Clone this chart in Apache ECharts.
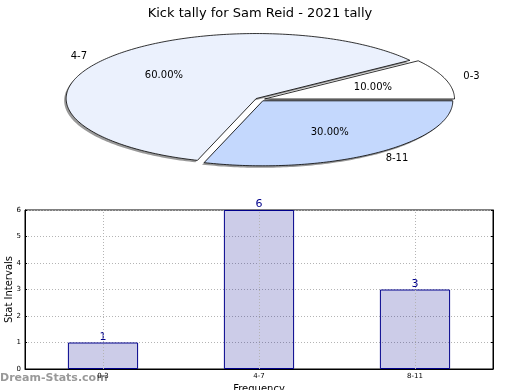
<!DOCTYPE html>
<html>
<head>
<meta charset="utf-8">
<script src="https://cdn.jsdelivr.net/npm/echarts@6/dist/echarts.min.js"></script>
<style>
html,body{margin:0;padding:0;background:#fff;}
#chart{width:520px;height:390px;}
</style>
</head>
<body>
<div id="chart"></div>
<script>
// ---- data ----
const categories = ['0-3', '4-7', '8-11'];
const counts = [1, 6, 3];
const yTicks = [0, 1, 2, 3, 4, 5, 6];
const titleText = 'Kick tally for Sam Reid - 2021 tally';

// ---- styles / layout ----
const pieColors = ['#ffffff', '#ebf1fd', '#c4d8fd'];
const PIE = { cx: 260, cy: 99.5, rx: 190, ry: 65, explode: 0.025, labelDist: 1.1, pctDist: 0.6 };

const total = counts.reduce((a, b) => a + b, 0);
const starts = [];
(function () { let acc = 0; counts.forEach(v => { starts.push(acc); acc += v; }); })();

function pt(ox, oy, aDeg, f) {
  const a = aDeg * Math.PI / 180;
  return [ox + PIE.rx * f * Math.cos(a), oy - PIE.ry * f * Math.sin(a)];
}

function renderWedge(params, api) {
  const i = params.dataIndex;
  const v = api.value(1);
  const a0 = starts[i] / total * 360;
  const a1 = (starts[i] + v) / total * 360;
  const mid = (a0 + a1) / 2;
  const m = mid * Math.PI / 180;
  const ox = PIE.cx + PIE.rx * PIE.explode * Math.cos(m);
  const oy = PIE.cy - PIE.ry * PIE.explode * Math.sin(m);
  const pts = [[ox, oy]];
  const n = Math.max(4, Math.ceil(a1 - a0));
  for (let k = 0; k <= n; k++) {
    pts.push(pt(ox, oy, a0 + (a1 - a0) * k / n, 1));
  }
  const shadowPts = pts.map(p => [p[0] - 2, p[1] + 2]);
  const lp = pt(ox, oy, mid, PIE.labelDist);
  const pp = pt(ox, oy, mid, PIE.pctDist);
  const cosm = Math.cos(m);
  return {
    type: 'group',
    children: [
      { type: 'polygon', shape: { points: shadowPts }, z2: 1,
        style: { fill: 'rgba(70,70,70,0.55)', stroke: null } },
      { type: 'polygon', shape: { points: pts }, z2: 10,
        style: { fill: pieColors[i], stroke: '#000', lineWidth: 0.8 } },
      { type: 'text', z2: 20, x: lp[0], y: lp[1],
        style: { text: categories[i], fill: '#000', fontSize: 10, fontFamily: 'DejaVu Sans',
                 align: cosm < 0 ? 'right' : 'left', verticalAlign: 'middle' } },
      { type: 'text', z2: 20, x: pp[0], y: pp[1],
        style: { text: (v / total * 100).toFixed(2) + '%', fill: '#000', fontSize: 10, fontFamily: 'DejaVu Sans',
                 align: 'center', verticalAlign: 'middle' } }
    ]
  };
}

const chart = echarts.init(document.getElementById('chart'), null, { renderer: 'canvas' });
chart.setOption({
  animation: false,
  backgroundColor: '#fff',
  textStyle: { fontFamily: 'DejaVu Sans' },
  title: {
    text: titleText, left: 'center', top: 2,
    textStyle: { fontSize: 13, fontWeight: 'normal', color: '#000', fontFamily: 'DejaVu Sans' }
  },
  graphic: [{
    type: 'text', left: 0, top: 373,
    style: { text: 'Dream-Stats.com', fill: '#999', fontSize: 11, fontWeight: 'bold', fontFamily: 'DejaVu Sans' }
  }],
  grid: { left: 25, right: 27, top: 210, bottom: 21, show: true, borderColor: '#000', borderWidth: 1,
          containLabel: false, outerBoundsMode: 'none' },
  xAxis: {
    type: 'category', data: categories,
    name: 'Frequency', nameLocation: 'middle', nameGap: 15, nameMoveOverlap: false,
    nameTextStyle: { fontSize: 10, color: '#000' },
    axisLine: { lineStyle: { color: '#000' } },
    axisTick: { show: false },
    axisLabel: { fontSize: 7, color: '#000', margin: 4 },
    splitLine: { show: false }
  },
  yAxis: [{
    type: 'value', min: yTicks[0], max: yTicks[yTicks.length - 1], interval: 1,
    name: 'Stat Intervals', nameLocation: 'middle', nameGap: 11, nameMoveOverlap: false,
    nameTextStyle: { fontSize: 10, color: '#000' },
    axisLine: { show: true, lineStyle: { color: '#000' } },
    axisTick: { show: true, inside: true, length: 2, lineStyle: { color: '#000' } },
    axisLabel: { fontSize: 7, color: '#000', margin: 4 },
    splitLine: { show: true, lineStyle: { color: '#b4b4b4', type: [1, 2], width: 1 } }
  }, {
    type: 'value', min: yTicks[0], max: yTicks[yTicks.length - 1], interval: 1, position: 'right',
    axisLine: { show: true, lineStyle: { color: '#000' } },
    axisTick: { show: true, inside: true, length: 2, lineStyle: { color: '#000' } },
    axisLabel: { show: false }, splitLine: { show: false }
  }],
  series: [{
    type: 'bar', data: counts, barWidth: '45%', xAxisIndex: 0, yAxisIndex: 0,
    itemStyle: { color: 'rgba(0,0,139,0.2)', borderColor: '#00008b', borderWidth: 1 },
    label: { show: true, position: 'top', distance: 0, color: '#00008b', fontSize: 11 },
    markLine: {
      silent: true, symbol: 'none', label: { show: false },
      lineStyle: { color: '#b4b4b4', type: [1, 2], width: 1 },
      data: categories.map(c => ({ xAxis: c }))
    }
  }, {
    type: 'custom', coordinateSystem: 'none',
    data: categories.map((c, i) => [i, counts[i]]),
    renderItem: renderWedge
  }]
});
</script>
</body>
</html>
